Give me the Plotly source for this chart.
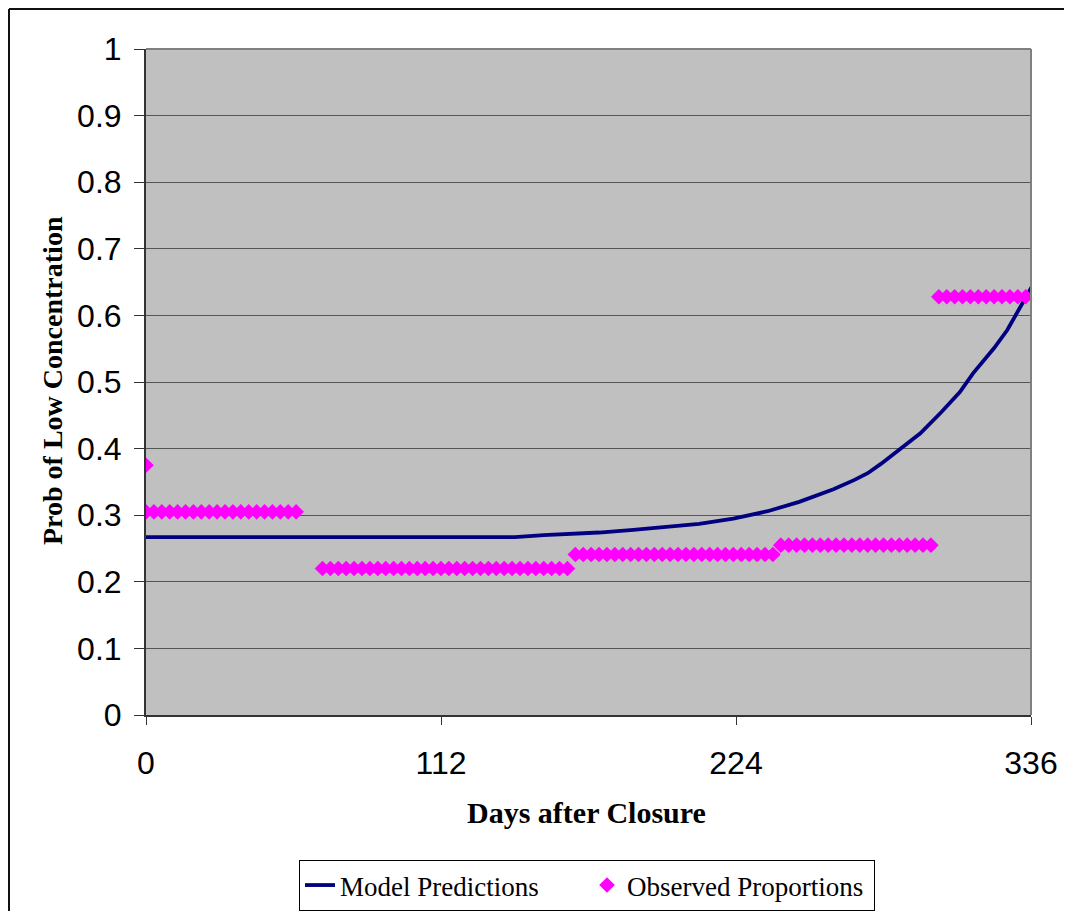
import plotly.graph_objects as go

# ---- data ----
model_days = [0, 70, 140, 151, 172, 185, 197, 210, 223, 236, 248, 261, 269, 274,
              279, 286, 294, 302, 309, 314, 322, 327, 332, 336, 339]
model_prob = [0.267, 0.267, 0.267, 0.270, 0.274, 0.278, 0.283, 0.287, 0.295, 0.306,
              0.320, 0.339, 0.353, 0.363, 0.377, 0.398, 0.423, 0.455, 0.485, 0.513,
              0.551, 0.578, 0.613, 0.640, 0.662]

obs_days = ([0] +
            [0, 3, 6, 9, 12, 15, 18, 21, 24, 27, 30, 33, 36, 39, 42, 45, 48, 51, 54, 57] +
            [67, 70, 73, 76, 79, 82, 85, 88, 91, 94, 97, 100, 103, 106, 109, 112, 115,
             118, 121, 124, 127, 130, 133, 136, 139, 142, 145, 148, 151, 154, 157, 160] +
            [163, 166, 169, 172, 175, 178, 181, 184, 187, 190, 193, 196, 199, 202, 205,
             208, 211, 214, 217, 220, 223, 226, 229, 232, 235, 238] +
            [241, 244, 247, 250, 253, 256, 259, 262, 265, 268, 271, 274, 277, 280, 283,
             286, 289, 292, 295, 298] +
            [301, 304, 307, 310, 313, 316, 319, 322, 325, 328, 331, 334])
obs_prop = ([0.375] +
            [0.305] * 20 +
            [0.220] * 32 +
            [0.241] * 26 +
            [0.255] * 20 +
            [0.628] * 12)

x_ticks = [0, 112, 224, 336]
y_ticks = [0, 0.1, 0.2, 0.3, 0.4, 0.5, 0.6, 0.7, 0.8, 0.9, 1]
y_tick_text = ["0", "0.1", "0.2", "0.3", "0.4", "0.5", "0.6", "0.7", "0.8", "0.9", "1"]

# page body has an 8px margin: place everything in screen coords minus 8
OFF = 8
W, H = 1072 - OFF, 911
PL, PR, PT, PB = 146 - OFF, 1031 - OFF, 49 - OFF, 715 - OFF  # plot area (figure px)
L, R, T, B = PL, W - PR, PT, H - PB
pw, ph = PR - PL, PB - PT


def px(x):  # screen x -> paper
    return (x - OFF - PL) / pw


def py(y):  # screen y -> paper
    return (PB - (y - OFF)) / ph


def fx(x):  # figure x -> paper
    return (x - PL) / pw


def fy(y):  # figure y -> paper
    return (PB - y) / ph


fig = go.Figure()
fig.add_trace(go.Scatter(
    x=model_days, y=model_prob, mode="lines", name="Model Predictions",
    line=dict(color="#000080", width=3.8),
))
fig.add_trace(go.Scatter(
    x=obs_days, y=obs_prop, mode="markers", name="Observed Proportions",
    marker=dict(symbol="diamond", size=12, color="#FF00FF", line=dict(width=0)),
))

fig.update_layout(
    width=W, height=H,
    margin=dict(l=L, r=R, t=T, b=B, pad=0, autoexpand=False),
    paper_bgcolor="white",
    plot_bgcolor="#C0C0C0",
    showlegend=True,
    legend=dict(
        orientation="h", x=px(587), xanchor="center",
        yref="container", y=(H - (860 - OFF)) / H, yanchor="top",
        bordercolor="black", borderwidth=1, bgcolor="white",
        font=dict(family="Liberation Serif", size=27, color="black"),
        entrywidth=242, itemwidth=30, tracegroupgap=0,
    ),
    xaxis=dict(
        range=[0, 336], tickvals=x_ticks, ticktext=[str(v) for v in x_ticks],
        showgrid=False, zeroline=False, showline=True, linecolor="#333333", linewidth=2,
        ticks="outside", ticklen=8, tickcolor="#333333", tickwidth=1,
        tickfont=dict(family="Liberation Sans", size=32, color="black"),
        ticklabelstandoff=11,
    ),
    yaxis=dict(
        range=[0, 1], tickvals=y_ticks, ticktext=y_tick_text,
        showgrid=True, gridcolor="#555555", gridwidth=1,
        zeroline=False, showline=True, linecolor="#333333", linewidth=2,
        ticks="outside", ticklen=10, tickcolor="#333333", tickwidth=1,
        tickfont=dict(family="Liberation Sans", size=32, color="black"),
        ticklabelstandoff=6,
    ),
    annotations=[
        dict(text="<b>Days after Closure</b>", xref="paper", yref="paper",
             x=px(586), y=py(812), xanchor="center", yanchor="middle",
             showarrow=False, font=dict(family="Liberation Serif", size=30, color="black")),
        dict(text="<b>Prob of Low Concentration</b>", xref="paper", yref="paper",
             x=px(52), y=py(381), xanchor="center", yanchor="middle", textangle=-90,
             showarrow=False, font=dict(family="Liberation Serif", size=28, color="black")),
    ],
    shapes=[
        # plot area border (top / right grey)
        dict(type="line", xref="paper", yref="paper", x0=0, x1=1, y0=1, y1=1,
             line=dict(color="#808080", width=2)),
        dict(type="line", xref="paper", yref="paper", x0=1, x1=1, y0=0, y1=1,
             line=dict(color="#808080", width=2)),
        # outer chart border (left and top edges; right/bottom fall outside the view)
        dict(type="line", xref="paper", yref="paper",
             x0=fx(1), x1=fx(1), y0=fy(H + 20), y1=fy(1),
             line=dict(color="#111111", width=2)),
        dict(type="line", xref="paper", yref="paper",
             x0=fx(1), x1=fx(W + 20), y0=fy(1), y1=fy(1),
             line=dict(color="#111111", width=2)),
    ],
)

fig.write_html("out.html")
